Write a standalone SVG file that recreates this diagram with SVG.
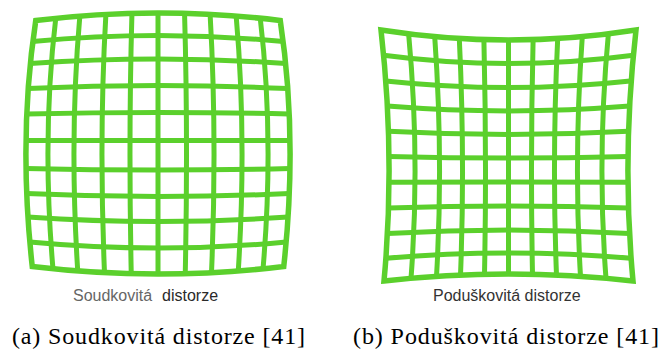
<svg xmlns="http://www.w3.org/2000/svg" width="662" height="352" viewBox="0 0 662 352">
<style>
.g{fill:none;stroke:#5BD02C;stroke-width:5;stroke-linejoin:miter}
.f{stroke-width:5.5}
.lbl{font-family:"Liberation Sans",Arial,sans-serif;font-size:16px}
.cap{font-family:"Liberation Serif","Times New Roman",serif;font-size:24px;fill:#000}
</style>
<rect width="662" height="352" fill="#fff"/>
<g id="barrel">
<path class="g f" d="M35.75,20.5 Q158,5.5 280.25,20.5 Q298,137.5 283.75,266.5 Q158,281.5 32.25,266.5 Q18,137.5 35.75,20.5 Z"/>
<path class="g" d="M32.52,41.5 Q158,29.5 283.48,41.5
M29.93,63.5 Q158,54.5 286.07,63.5
M27.98,88.5 Q158,82.5 288.02,88.5
M26.67,114 Q158,111 289.33,114
M26,140.5 L290,140.5
M25.97,168.5 Q158,171.5 290.03,168.5
M26.58,193.5 Q158,199.5 289.42,193.5
M27.83,217 Q158,226 288.17,217
M29.72,242 Q158,254 286.28,242"/>
<path class="g" d="M55.8,17.8 Q41.6,137.5 53,269.2
M79.85,15.7 Q69.2,137.5 77.75,271.3
M105.9,14.2 Q98.8,137.5 104.5,272.8
M131.95,13.3 Q128.4,137.5 131.25,273.7
M158,13 L158,274
M184.55,13.3 Q188.1,137.5 185.25,273.7
M210.1,14.2 Q217.2,137.5 211.5,272.8
M236.15,15.7 Q246.8,137.5 238.25,271.3
M260.2,17.8 Q274.4,137.5 263,269.2"/>
<text class="lbl" x="73" y="301" fill="#666">Soudkovitá</text>
<text class="lbl" x="162" y="301" fill="#2a2a2a">distorze</text>
</g>
<g id="pincushion">
<path class="g f" d="M381,30 Q508.5,50 636,30 Q621.5,157.5 633,281 Q508.5,267 384,281 Q395.5,157.5 381,30 Z"/>
<path class="g" d="M383.64,55.2 Q508.5,71.8 633.36,55.2
M385.76,80.9 Q508.5,94.1 630.24,80.9
M387.36,106.1 Q508.5,115.9 629.64,106.1
M388.44,131.3 Q508.5,137.7 628.56,131.3
M389,156.5 Q508.5,159.5 628,156.5
M389.04,182.2 Q508.5,181.8 627.96,182.2
M388.56,207.9 Q508.5,204.1 628.44,207.9
M387.56,233.6 Q508.5,226.4 629.44,233.6
M386.04,258.3 Q508.5,247.7 630.96,258.3"/>
<path class="g" d="M408.6,33.6 Q420.2,158.04 411,278.48
M434.7,36.4 Q443.4,158.46 436.5,276.52
M459.3,38.4 Q465.1,158.76 460.5,275.12
M483.9,39.6 Q486.8,158.94 484.5,274.28
M508.5,40 L508.5,274
M533.1,39.6 Q530.2,158.94 532.5,274.28
M557.7,38.4 Q551.9,158.76 556.5,275.12
M582.3,36.4 Q573.6,158.46 580.5,276.52
M608.4,33.6 Q596.8,158.04 606,278.48"/>
<text class="lbl" x="433" y="301" fill="#333">Poduškovitá distorze</text>
</g>
<g id="captions">
<text class="cap" x="12" y="344" textLength="293" lengthAdjust="spacing">(a) Soudkovitá distorze [41]</text>
<text class="cap" x="353" y="344" textLength="306" lengthAdjust="spacing">(b) Poduškovitá distorze [41]</text>
</g>
</svg>
